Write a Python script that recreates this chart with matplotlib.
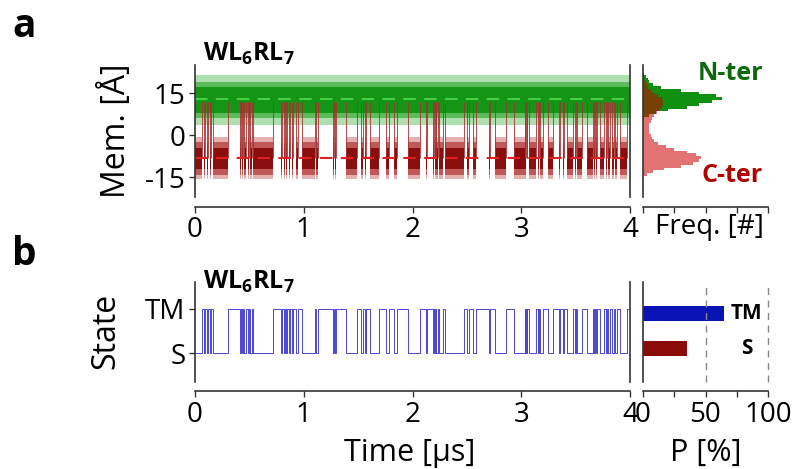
import numpy as np
import matplotlib
matplotlib.use("Agg")
import matplotlib.pyplot as plt

plt.rcParams["font.family"] = ["Open Sans", "DejaVu Sans"]
plt.rcParams["mathtext.fontset"] = "custom"
plt.rcParams["mathtext.rm"] = "Open Sans"
plt.rcParams["mathtext.bf"] = "Open Sans:bold"
plt.rcParams["axes.unicode_minus"] = False

# state switching times (us), trajectory starts in S
toggles = [0.06, 0.083, 0.095, 0.107, 0.12, 0.138, 0.15, 0.169,
           0.30, 0.414, 0.42, 0.432, 0.44, 0.455, 0.47, 0.49, 0.50, 0.51, 0.52, 0.536,
           0.72, 0.79, 0.80, 0.815, 0.825, 0.84, 0.85, 0.865, 0.875, 0.89, 0.90, 0.93, 0.945, 0.98,
           1.10, 1.115, 1.13, 1.27, 1.28, 1.29, 1.30, 1.39, 1.49, 1.53, 1.545, 1.56, 1.575, 1.61,
           1.69, 1.76, 1.78, 1.83, 1.86, 1.96, 2.07, 2.12, 2.13, 2.19, 2.20, 2.205, 2.215, 2.22,
           2.23, 2.24, 2.28, 2.30, 2.47, 2.50, 2.52, 2.56, 2.58, 2.70, 2.71, 2.76, 2.86, 2.93,
           3.03, 3.035, 3.04, 3.05, 3.055, 3.07, 3.14, 3.15, 3.16, 3.17, 3.20, 3.25, 3.29, 3.35,
           3.36, 3.38, 3.39, 3.42, 3.48, 3.49, 3.50, 3.51, 3.56, 3.60, 3.66, 3.67, 3.68, 3.69,
           3.70, 3.72, 3.76, 3.78, 3.79, 3.80, 3.82, 3.83, 3.85, 3.86, 3.88, 3.91, 3.97]
t_end = 4.0

# membrane position levels (A)
nter_mean = 13
cter_tm = 12
cter_s = -8
# spread of the traces, outer to inner
nter_bands = [(3.5, 21.5), (6, 19), (8, 17)]
cter_s_bands = [(-15.5, -0.5), (-14, -2.5), (-12, -4.5)]
cter_tm_bands = [(5, 19), (7, 17), (8, 16)]
nter_colors = ["#aedfae", "#5cbc5c", "#159515"]
cter_colors = ["#e4b0b0", "#c05858", "#8b0e0e"]

# histograms (fraction of panel width)
hist_y = np.arange(-16, 23)
hist_nter = [0, 0, 0, 0, 0, 0, 0, 0, 0, 0, 0, 0, 0, 0, 0, 0, 0, 0, 0, 0, 0,
             0.0, 0.01, 0.05, 0.10, 0.20, 0.35, 0.45, 0.55, 0.635, 0.58, 0.45, 0.30,
             0.14, 0.08, 0.05, 0.04, 0.02, 0.01]
hist_cter = [0.0, 0.01, 0.03, 0.08, 0.17, 0.30, 0.40, 0.45, 0.46, 0.42, 0.35, 0.25,
             0.18, 0.12, 0.09, 0.07, 0.06, 0.05, 0.05, 0.05, 0.05, 0.06, 0.07, 0.09,
             0.11, 0.13, 0.15, 0.16, 0.16, 0.15, 0.12, 0.09, 0.06, 0.04, 0.03, 0.02,
             0.01, 0.005, 0.0]

# state populations (%)
pop_labels = ["TM", "S"]
pop_values = [65, 35]

times = np.array([0.0] + toggles + [t_end])
state = np.arange(len(times)) % 2  # 0 = S, 1 = TM
is_tm = state == 1

W, H = 798, 469
fig = plt.figure(figsize=(W / 100, H / 100), dpi=100)
ax1 = fig.add_axes([195 / W, 1 - 197 / H, 435 / W, 132 / H])
axh = fig.add_axes([643 / W, 1 - 197 / H, 125 / W, 132 / H], sharey=ax1)
ax2 = fig.add_axes([195 / W, 1 - 382 / H, 435 / W, 100 / H])
axb = fig.add_axes([643 / W, 1 - 382 / H, 125 / W, 100 / H])

spc = "#333333"
for ax in (ax1, axh, ax2, axb):
    ax.spines["top"].set_visible(False)
    for s in ax.spines.values():
        s.set_color(spc)
        s.set_linewidth(1.2)
    ax.tick_params(labelsize=20, length=4, width=1, color=spc, pad=3)
ax1.spines["bottom"].set_position(("outward", 7))
axh.spines["bottom"].set_position(("outward", 7))
ax2.spines["bottom"].set_position(("outward", 6.5))
axb.spines["bottom"].set_position(("outward", 6.5))
axh.spines["right"].set_visible(False)
axb.spines["right"].set_visible(False)

# panel a: membrane positions
for (s_lo, s_hi), (t_lo, t_hi), c in zip(cter_s_bands, cter_tm_bands, cter_colors):
    lo = np.where(is_tm, t_lo, s_lo)
    hi = np.where(is_tm, t_hi, s_hi)
    ax1.fill_between(times, lo, hi, step="post", color=c, lw=0)
ax1.vlines(times[1:-1], cter_s, cter_tm, color="#a83030", lw=0.6)
for (lo, hi), c in zip(nter_bands, nter_colors):
    ax1.fill_between([0, t_end], lo, hi, color=c, lw=0)
ax1.axhline(nter_mean, color="#45d045", lw=1.5, ls=(0, (6, 4)))
ax1.axhline(cter_s, color="#e02020", lw=1.5, ls=(0, (6, 4)))
ax1.set_xlim(0, t_end)
ax1.set_ylim(-22, 25)
ax1.set_yticks([-15, 0, 15])
ax1.set_xticks([0, 1, 2, 3, 4])
ax1.set_ylabel("Mem. [Å]", fontsize=23)
ax1.yaxis.set_label_coords(-0.143, 0.5)
ax1.text(0.018, 1.03, r"$\mathbf{WL_6RL_7}$", transform=ax1.transAxes,
         fontsize=18, va="baseline")

axh.fill_betweenx(hist_y, 0, hist_nter, step="mid", color="#109010", lw=0)
axh.fill_betweenx(hist_y, 0, hist_cter, step="mid", color="#cc0000", alpha=0.55, lw=0)
axh.set_xlim(0, 1)
axh.set_xticks([0, 0.25, 0.5, 0.75, 1])
axh.tick_params(labelbottom=False, left=False, labelleft=False)
axh.set_xlabel("Freq. [#]", fontsize=20)
axh.xaxis.set_label_coords(0.53, -0.12)
axh.text(0.70, 21.9, "N-ter", color="#0b6a0b", fontsize=18, weight="bold",
         ha="center", va="center")
axh.text(0.71, -14.5, "C-ter", color="#b00000", fontsize=18, weight="bold",
         ha="center", va="center")

# panel b: state trace
ax2.step(times, np.append(state[:-1], state[-2]), where="post",
         color="#2626cc", lw=0.7, alpha=0.85)
ax2.set_xlim(0, t_end)
ax2.set_ylim(-0.65, 1.6)
ax2.set_yticks([0, 1])
ax2.set_yticklabels(["S", "TM"])
ax2.set_xticks([0, 1, 2, 3, 4])
ax2.set_ylabel("State", fontsize=23)
ax2.yaxis.set_label_coords(-0.166, 0.51)
ax2.set_xlabel("Time [µs]", fontsize=22)
ax2.xaxis.set_label_coords(0.494, -0.56)
ax2.text(0.018, 0.93, r"$\mathbf{WL_6RL_7}$", transform=ax2.transAxes,
         fontsize=18, va="baseline")

ypos = [1, 0]
axb.barh(ypos, pop_values, height=0.43, color=["#0a14b4", "#8b0a0a"])
for x in (50, 100):
    axb.axvline(x, color="#888888", lw=1, ls=(0, (5, 4)), clip_on=False)
for y, lab in zip(ypos, pop_labels):
    axb.text(83, y, lab, fontsize=15, weight="bold", ha="center", va="center")
axb.set_xlim(0, 100)
axb.set_ylim(-0.97, 1.89)
axb.set_xticks([0, 25, 50, 75, 100])
axb.set_xticklabels(["0", "", "50", "", "100"])
axb.tick_params(left=False, labelleft=False)
axb.set_xlabel("P [%]", fontsize=22)
axb.xaxis.set_label_coords(0.5, -0.56)

fig.text(12 / W, 1 - 37 / H, "a", fontsize=28, weight="bold", va="baseline")
fig.text(12 / W, 1 - 265 / H, "b", fontsize=28, weight="bold", va="baseline")

fig.savefig("out.png", dpi=100)
